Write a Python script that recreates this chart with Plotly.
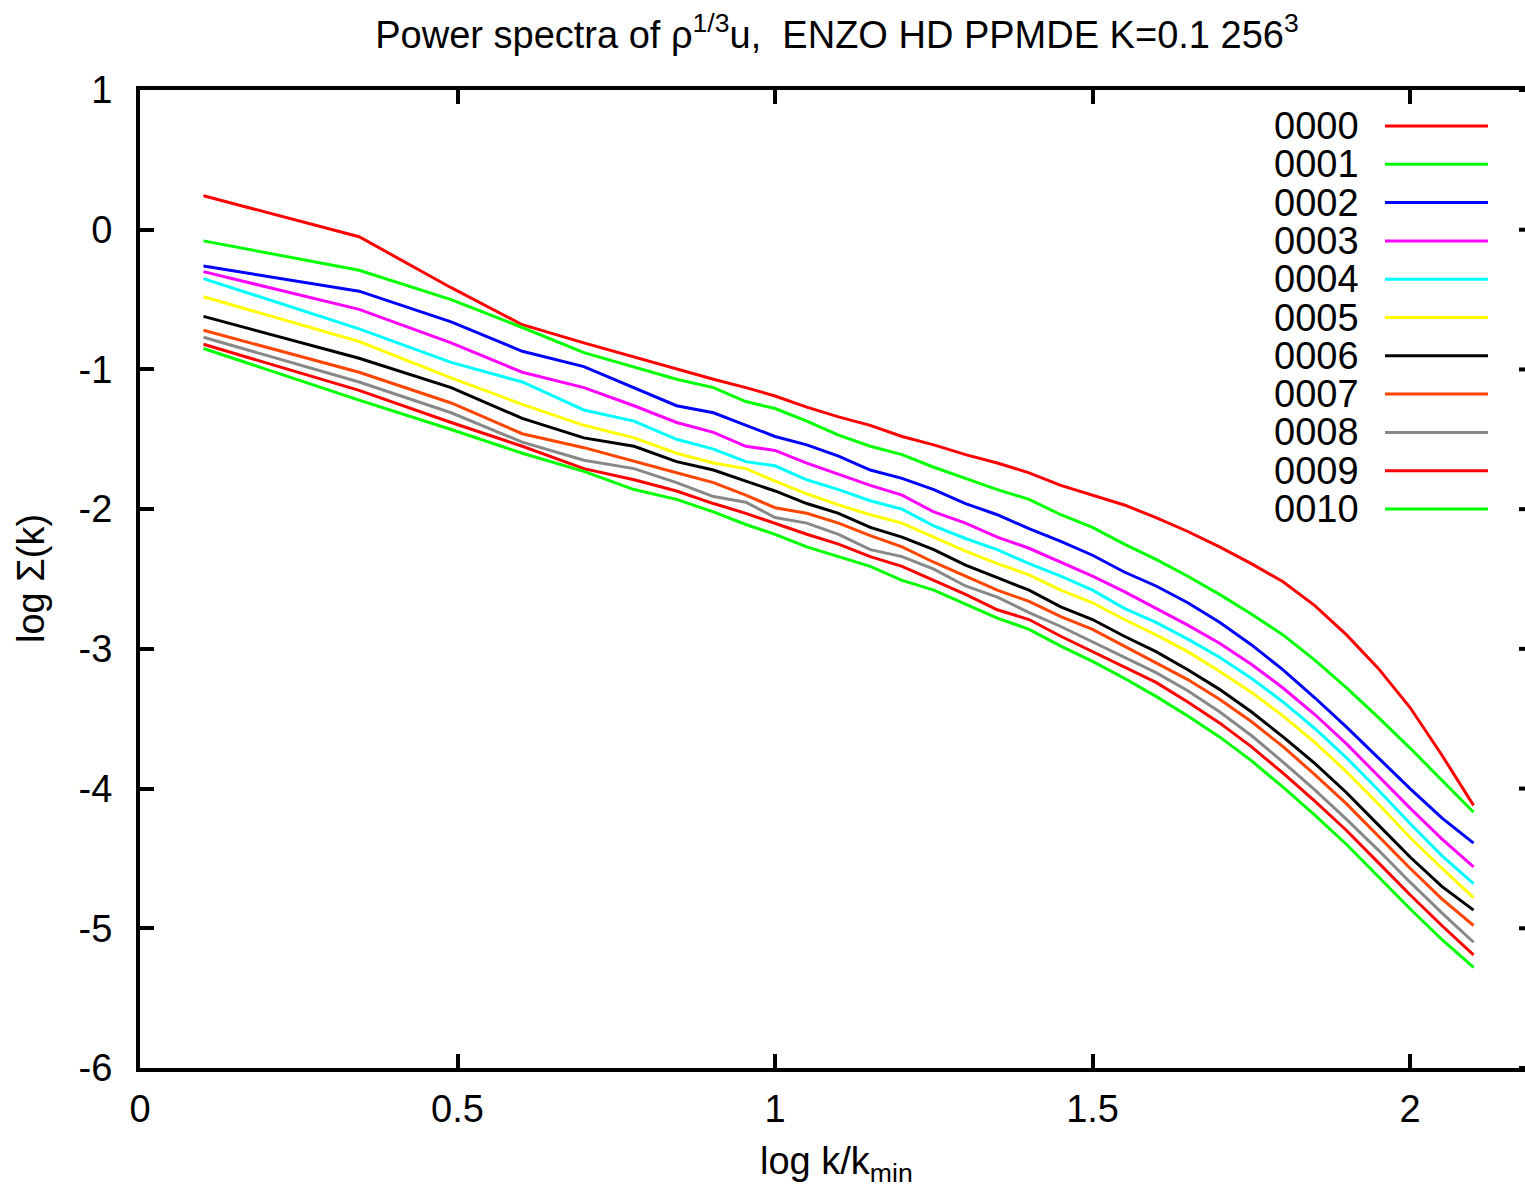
import plotly.graph_objects as go

# ---- data ----
x_logk = [0.1, 0.345, 0.49, 0.602, 0.699, 0.778, 0.845, 0.903, 0.954, 1.0,
          1.05, 1.1, 1.15, 1.2, 1.25, 1.3, 1.35, 1.4, 1.45, 1.5, 1.55, 1.6,
          1.65, 1.7, 1.75, 1.8, 1.85, 1.9, 1.95, 2.0, 2.05, 2.1]

s0000 = [0.243, -0.05, -0.415, -0.68, -0.81, -0.91, -1.00, -1.07, -1.13, -1.19,
         -1.27, -1.34, -1.40, -1.48, -1.54, -1.61, -1.67, -1.74, -1.83, -1.90, -1.97, -2.06,
         -2.16, -2.27, -2.39, -2.52, -2.69, -2.90, -3.14, -3.42, -3.76, -4.12]
s0001 = [-0.08, -0.29, -0.50, -0.70, -0.88, -0.98, -1.07, -1.13, -1.23, -1.28,
         -1.37, -1.47, -1.55, -1.61, -1.70, -1.78, -1.86, -1.93, -2.04, -2.13, -2.25, -2.36,
         -2.48, -2.61, -2.75, -2.90, -3.08, -3.28, -3.49, -3.71, -3.94, -4.17]
s0002 = [-0.26, -0.44, -0.66, -0.87, -0.98, -1.13, -1.26, -1.31, -1.40, -1.48,
         -1.54, -1.62, -1.72, -1.78, -1.86, -1.96, -2.04, -2.14, -2.23, -2.33, -2.45, -2.55,
         -2.67, -2.81, -2.97, -3.15, -3.35, -3.56, -3.78, -4.00, -4.21, -4.39]
s0003 = [-0.30, -0.57, -0.81, -1.02, -1.13, -1.26, -1.38, -1.45, -1.55, -1.58,
         -1.67, -1.75, -1.83, -1.90, -2.02, -2.10, -2.20, -2.28, -2.38, -2.48, -2.59, -2.71,
         -2.83, -2.96, -3.11, -3.28, -3.47, -3.68, -3.91, -4.14, -4.36, -4.56]
s0004 = [-0.35, -0.71, -0.95, -1.09, -1.29, -1.37, -1.50, -1.57, -1.66, -1.69,
         -1.79, -1.86, -1.94, -2.00, -2.12, -2.21, -2.29, -2.39, -2.48, -2.58, -2.71, -2.81,
         -2.93, -3.06, -3.21, -3.38, -3.57, -3.78, -4.01, -4.25, -4.48, -4.68]
s0005 = [-0.48, -0.80, -1.06, -1.25, -1.40, -1.49, -1.60, -1.67, -1.71, -1.80,
         -1.89, -1.97, -2.04, -2.10, -2.20, -2.30, -2.39, -2.47, -2.58, -2.67, -2.79, -2.90,
         -3.02, -3.16, -3.31, -3.48, -3.67, -3.88, -4.11, -4.35, -4.57, -4.78]
s0006 = [-0.62, -0.92, -1.13, -1.35, -1.49, -1.55, -1.66, -1.72, -1.80, -1.87,
         -1.96, -2.03, -2.13, -2.20, -2.29, -2.40, -2.49, -2.58, -2.70, -2.79, -2.91, -3.02,
         -3.15, -3.29, -3.45, -3.63, -3.82, -4.03, -4.26, -4.49, -4.70, -4.87]
s0007 = [-0.72, -1.02, -1.24, -1.46, -1.56, -1.66, -1.74, -1.81, -1.90, -1.99,
         -2.03, -2.10, -2.19, -2.27, -2.38, -2.48, -2.58, -2.66, -2.77, -2.86, -2.98, -3.10,
         -3.22, -3.36, -3.52, -3.70, -3.90, -4.11, -4.34, -4.57, -4.79, -4.98]
s0008 = [-0.77, -1.09, -1.31, -1.52, -1.65, -1.71, -1.81, -1.91, -1.95, -2.06,
         -2.10, -2.18, -2.29, -2.34, -2.43, -2.55, -2.63, -2.74, -2.84, -2.95, -3.06, -3.17,
         -3.30, -3.45, -3.62, -3.81, -4.01, -4.22, -4.44, -4.67, -4.89, -5.10]
s0009 = [-0.82, -1.15, -1.38, -1.55, -1.71, -1.79, -1.87, -1.96, -2.03, -2.10,
         -2.18, -2.25, -2.34, -2.41, -2.51, -2.61, -2.72, -2.79, -2.91, -3.02, -3.13, -3.24,
         -3.38, -3.53, -3.70, -3.89, -4.09, -4.30, -4.53, -4.76, -4.98, -5.19]
s0010 = [-0.85, -1.22, -1.43, -1.60, -1.73, -1.86, -1.93, -2.02, -2.11, -2.18,
         -2.27, -2.34, -2.41, -2.51, -2.58, -2.68, -2.78, -2.86, -2.98, -3.09, -3.21, -3.34,
         -3.48, -3.63, -3.80, -3.99, -4.19, -4.40, -4.63, -4.86, -5.08, -5.28]

series_names = ["0000", "0001", "0002", "0003", "0004", "0005",
                "0006", "0007", "0008", "0009", "0010"]
series_values = [s0000, s0001, s0002, s0003, s0004, s0005,
                 s0006, s0007, s0008, s0009, s0010]
series_colors = ["#ff0000", "#00ff00", "#0000ff", "#ff00ff", "#00ffff", "#ffff00",
                 "#000000", "#ff4500", "#888888", "#ff0000", "#00ff00"]

x_ticks = [0, 0.5, 1, 1.5, 2]
x_tick_labels = ["0", "0.5", "1", "1.5", "2"]
y_ticks = [1, 0, -1, -2, -3, -4, -5, -6]
y_tick_labels = ["1", "0", "-1", "-2", "-3", "-4", "-5", "-6"]

# ---- figure ----
W, H = 1525, 1190
L, R, T, B = 140, 0, 90, 122
PW, PH = W - L - R, H - T - B
FONT = "Liberation Sans, Arial, Helvetica, sans-serif"
FS = 38
LW = 3

fig = go.Figure()
for name, vals, col in zip(series_names, series_values, series_colors):
    fig.add_trace(go.Scatter(x=x_logk, y=vals, mode="lines", name=name,
                             line=dict(color=col, width=LW), showlegend=False))

def px_x(p):
    return (p - L) / PW

def px_y(p):
    return (H - B - p) / PH

annotations = []
shapes = []
# legend, gnuplot style: label left, sample line right
row0, step = 126, 38.3
for i, (name, col) in enumerate(zip(series_names, series_colors)):
    yy = px_y(row0 + i * step)
    annotations.append(dict(xref="paper", yref="paper", x=px_x(1361), y=yy,
                            text=name, showarrow=False, xanchor="right",
                            yanchor="middle", font=dict(size=FS, family=FONT, color="black")))
    shapes.append(dict(type="line", xref="paper", yref="paper",
                       x0=px_x(1385), x1=px_x(1488), y0=yy, y1=yy,
                       line=dict(color=col, width=LW)))

# small mirrored ticks on the right edge
for t in y_ticks:
    shapes.append(dict(type="line", xref="paper", yref="y", x0=1 - 6 / PW, x1=1,
                       y0=t, y1=t, line=dict(color="black", width=4)))

# axis titles
annotations.append(dict(xref="paper", yref="paper", x=px_x(31), y=0.5,
                        text="log Σ(k)", textangle=-90, showarrow=False,
                        xanchor="center", yanchor="middle",
                        font=dict(size=FS, family=FONT, color="black")))
annotations.append(dict(xref="paper", yref="paper", x=px_x(836), y=px_y(1164),
                        text="log k/k<sub>min</sub>", showarrow=False,
                        xanchor="center", yanchor="middle",
                        font=dict(size=FS, family=FONT, color="black")))

fig.update_layout(
    width=W, height=H,
    margin=dict(l=L, r=R, t=T, b=B, autoexpand=False),
    paper_bgcolor="white", plot_bgcolor="white",
    font=dict(family=FONT, size=FS, color="black"),
    title=dict(text="Power spectra of ρ<sup>1/3</sup>u,\u00a0\u00a0ENZO HD PPMDE K=0.1 256<sup>3</sup>",
               xref="container", x=837 / W, xanchor="center",
               yref="container", y=1 - 35 / H, yanchor="middle",
               font=dict(size=FS, family=FONT, color="black")),
    annotations=annotations,
    shapes=shapes,
    showlegend=False,
)
fig.update_xaxes(range=[0, 2.181], tickvals=x_ticks, ticktext=x_tick_labels,
                 showgrid=False, zeroline=False, showline=True, linewidth=4,
                 linecolor="black", mirror="ticks", ticks="inside", ticklen=14,
                 tickwidth=4, tickcolor="black", ticklabelstandoff=4,
                 tickfont=dict(size=FS, family=FONT, color="black"))
fig.update_yaxes(range=[-6, 1], tickvals=y_ticks, ticktext=y_tick_labels,
                 showgrid=False, zeroline=False, showline=True, linewidth=4,
                 linecolor="black", mirror=False, ticks="inside", ticklen=14,
                 tickwidth=4, tickcolor="black", ticklabelstandoff=16,
                 tickfont=dict(size=FS, family=FONT, color="black"))

fig.write_html("out.html")
